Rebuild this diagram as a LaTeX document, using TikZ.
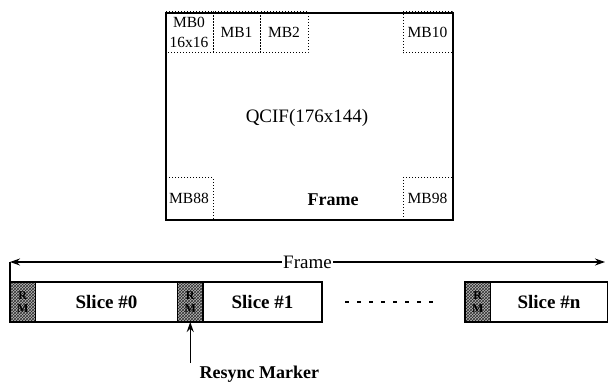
\documentclass[tikz,border=0pt]{standalone}
\usepackage{fontspec}
\setmainfont{Liberation Serif}
\usepackage{tikz}
\usetikzlibrary{
arrows.meta,
positioning,
patterns
}
\definecolor{scangray}{RGB}{45,45,45}

\begin{document}
\begin{tikzpicture}[
  x=1pt, y=-1pt,
  >={Stealth[length=10pt,width=7pt]},
  every node/.style={font=\fontsize{19}{22}\selectfont},
  mbbox/.style={draw, dotted, line width=1pt, inner sep=0pt, outer sep=0pt,
                minimum width=48pt, minimum height=41pt, align=center,
                font=\fontsize{15.5}{17}\selectfont},
  slicebox/.style={draw, line width=1.2pt, inner sep=0pt, outer sep=0pt,
                   minimum height=40pt, font=\bfseries\fontsize{19}{22}\selectfont},
  rmbox/.style={slicebox, minimum width=25.5pt, preaction={fill=black!28},
                pattern=crosshatch, pattern color=scangray, align=center,
                font=\bfseries\fontsize{12}{12}\selectfont},
  arrow/.style={->, line width=1.2pt}
]
\useasboundingbox (0,0) rectangle (608,385);

%% ── MACROBLOCKS (dotted) ─────────────────────────────────────
\node[mbbox, anchor=north west] (mb0) at (165,12) {MB0\\[3pt]16x16};
\node[mbbox, minimum width=47pt, right=0pt of mb0] (mb1) {MB1};
\node[mbbox, right=0pt of mb1] (mb2) {MB2};
\node[mbbox, minimum width=49pt, anchor=north east] (mb10) at (452,12) {MB10};
\node[mbbox, anchor=south west] (mb88) at (165,219) {MB88};
\node[mbbox, minimum width=49pt, anchor=south east] (mb98) at (452,219) {MB98};

%% ── QCIF FRAME ───────────────────────────────────────────────
\node[draw, line width=1.6pt, anchor=north west, inner sep=0pt,
      minimum width=287pt, minimum height=207pt] (qcif) at (165,12) {};
\node (qciflab) at (307,118) {QCIF(176x144)};
\node[font=\bfseries\fontsize{18}{21}\selectfont] (framelab) at (333,200) {Frame};

%% ── SLICE ROW ────────────────────────────────────────────────
\node[rmbox, anchor=north west] (rm0) at (10,282) {R\\[1pt]M};
\node[slicebox, minimum width=142pt, right=0pt of rm0] (slice0) {Slice \#0};
\node[rmbox, right=0pt of slice0] (rm1) {R\\[1pt]M};
\node[slicebox, minimum width=119pt, right=0pt of rm1] (slice1) {Slice \#1};

\coordinate (gapL) at (345,302);
\coordinate (gapR) at (434,302);
\draw[line width=1.2pt, dash pattern=on 4pt off 8pt] (gapL) -- (gapR);

\node[rmbox, anchor=north west] (rmn) at (465,282) {R\\[1pt]M};
\node[slicebox, minimum width=117pt, right=0pt of rmn] (slicen) {Slice \#n};

%% Frame span
\coordinate (frL) at (10,262);
\coordinate (frR) at (605,262);
\draw[<->, line width=1.2pt] (frL) -- node[fill=white, inner sep=1pt] (spanlab) {Frame} (frR);
\draw[line width=1.2pt] (frL) -- (rm0.north west);

%% Resync marker pointer
\coordinate (rsy) at (rm1.south |- 0,363);
\draw[arrow] (rsy) -- (rm1.south);
\node[anchor=west, font=\bfseries\fontsize{18}{21}\selectfont] (rsylab) at (196,374) {Resync Marker};

\end{tikzpicture}
\end{document}
